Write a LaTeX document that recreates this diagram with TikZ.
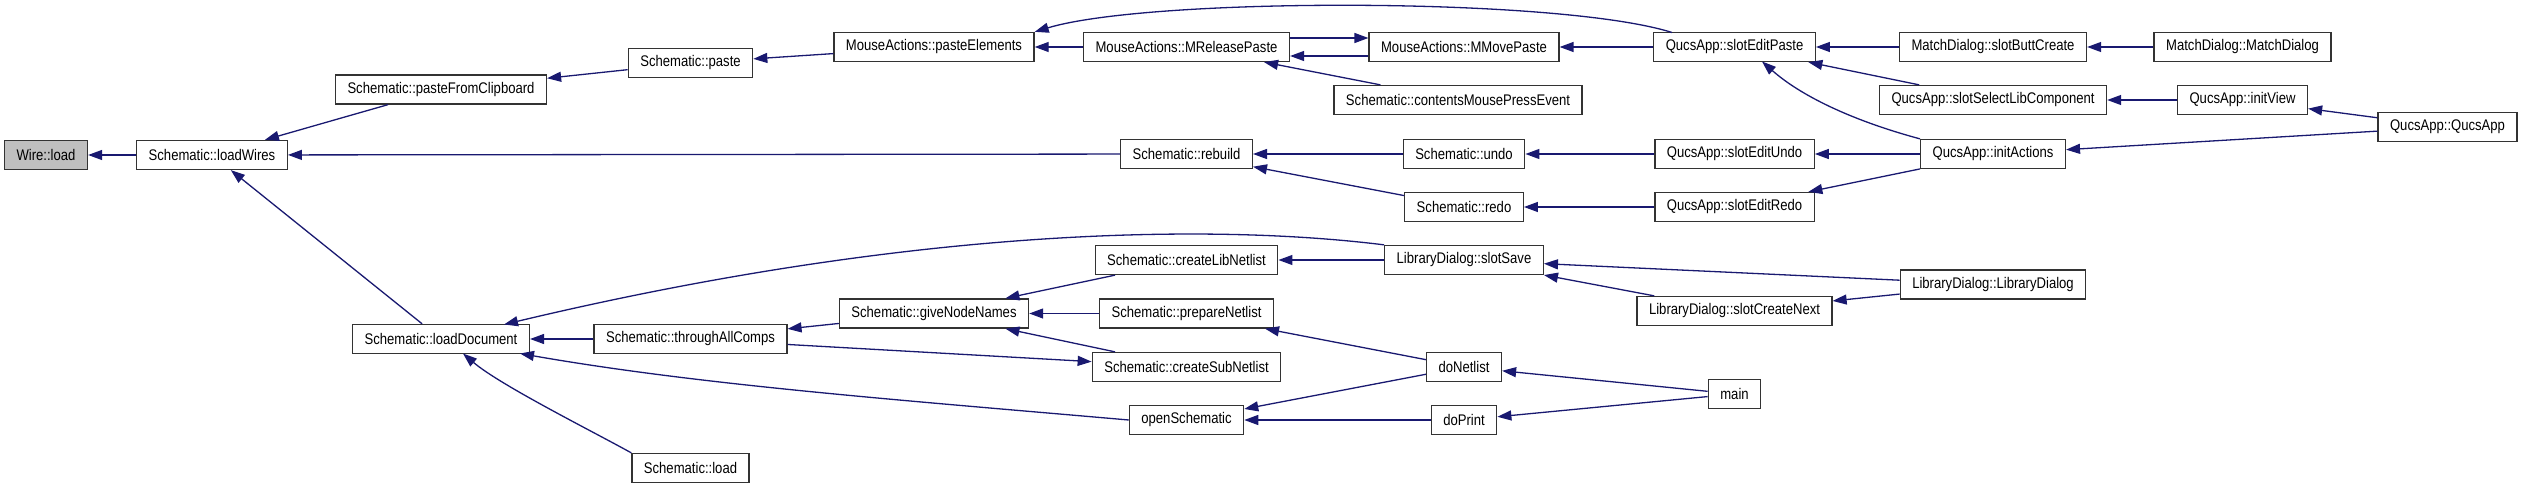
\documentclass[tikz,border=0pt]{standalone}
\usepackage{fontspec}
\newfontfamily\dxsans{Liberation Sans}[FakeStretch=0.85]
\usetikzlibrary{arrows.meta}
\definecolor{edgeblue}{RGB}{25,25,112}
\definecolor{curgray}{RGB}{191,191,191}
\tikzset{
  fn/.style={draw=black!80, fill=white, line width=1.3pt, minimum height=29pt,
    inner xsep=12pt, inner ysep=0pt, font={\dxsans\fontsize{15.4}{18}\selectfont}},
  cur/.style={fn, fill=curgray},
  call/.style={draw=edgeblue, line width=1.3pt, -{Triangle[length=14pt,width=10pt]}}
}
\begin{document}
\begin{tikzpicture}[x=1pt,y=-1pt]
\useasboundingbox (0,0) rectangle (2523,489);
% columns
\node[cur] (wl) at (46,155) {Wire::load};
\node[fn] (lw) at (212,155) {Schematic::loadWires};
\node[fn] (pfc) at (441,89.5) {Schematic::pasteFromClipboard};
\node[fn] (ldoc) at (441,339) {Schematic::loadDocument};
\node[fn] (paste) at (690.5,63) {Schematic::paste};
\node[fn] (tac) at (690.5,339) {Schematic::throughAllComps};
\node[fn] (sload) at (690.5,468) {Schematic::load};
\node[fn] (pe) at (934,47) {MouseActions::pasteElements};
\node[fn] (gnn) at (934,313.5) {Schematic::giveNodeNames};
\node[fn] (mrp) at (1186.5,47) {MouseActions::MReleasePaste};
\node[fn] (rebuild) at (1186.5,154) {Schematic::rebuild};
\node[fn] (cln) at (1186.5,260) {Schematic::createLibNetlist};
\node[fn] (pnl) at (1186.5,313.5) {Schematic::prepareNetlist};
\node[fn] (csn) at (1186.5,367) {Schematic::createSubNetlist};
\node[fn] (osch) at (1186.5,420) {openSchematic};
\node[fn] (mmp) at (1464,47) {MouseActions::MMovePaste};
\node[fn] (cmpe) at (1458,100) {Schematic::contentsMousePressEvent};
\node[fn] (undo) at (1464,154) {Schematic::undo};
\node[fn] (redo) at (1464,207) {Schematic::redo};
\node[fn] (ssave) at (1464,260) {LibraryDialog::slotSave};
\node[fn] (donl) at (1464,367) {doNetlist};
\node[fn] (dopr) at (1464,420) {doPrint};
\node[fn] (sep) at (1734.5,47) {QucsApp::slotEditPaste};
\node[fn] (seu) at (1734.5,154) {QucsApp::slotEditUndo};
\node[fn] (ser) at (1734.5,207) {QucsApp::slotEditRedo};
\node[fn] (scn) at (1734.5,311) {LibraryDialog::slotCreateNext};
\node[fn] (main) at (1734.5,394) {main};
\node[fn] (sbc) at (1993,47) {MatchDialog::slotButtCreate};
\node[fn] (sslc) at (1993,100) {QucsApp::slotSelectLibComponent};
\node[fn] (iact) at (1993,154) {QucsApp::initActions};
\node[fn] (ldlg) at (1993,284.5) {LibraryDialog::LibraryDialog};
\node[fn] (mdlg) at (2242.5,47) {MatchDialog::MatchDialog};
\node[fn] (iview) at (2242.5,100) {QucsApp::initView};
\node[fn] (qapp) at (2447.5,127) {QucsApp::QucsApp};
% calls, arrow at the callee
\foreach \a/\b in {lw/wl, pfc/lw, rebuild/lw, ldoc/lw, paste/pfc, pe/paste,
  mrp/pe, cmpe/mrp, sep/mmp, sbc/sep, mdlg/sbc, sslc/sep, iview/sslc,
  qapp/iview, qapp/iact, undo/rebuild, redo/rebuild, seu/undo, ser/redo,
  iact/seu, iact/ser, tac/ldoc, gnn/tac, tac/csn, cln/gnn, pnl/gnn, csn/gnn,
  ssave/cln, ldlg/ssave, scn/ssave, ldlg/scn, donl/pnl, donl/osch,
  dopr/osch, main/donl, main/dopr}
{
    \draw[call] (\a) -- (\b);
}
\draw[call] ([yshift=9pt]mrp.east) -- ([yshift=9pt]mmp.west);
\draw[call] ([yshift=-9pt]mmp.west) -- ([yshift=-9pt]mrp.east);
\draw[call] (1672,32.5) .. controls (1560,-3) and (1150,-3) .. (pe.north east);
\draw[call] (iact.north west) .. controls (1850,120) and (1800,95) .. (1762,61.5);
\draw[call] (ssave.north west) .. controls (1200,222) and (900,230) .. (504,324.5);
\draw[call] (osch.west) .. controls (900,400) and (700,385) .. (520,353.5);
\draw[call] (sload.north west) .. controls (590,430) and (500,385) .. (463,353.5);
\end{tikzpicture}
\end{document}
